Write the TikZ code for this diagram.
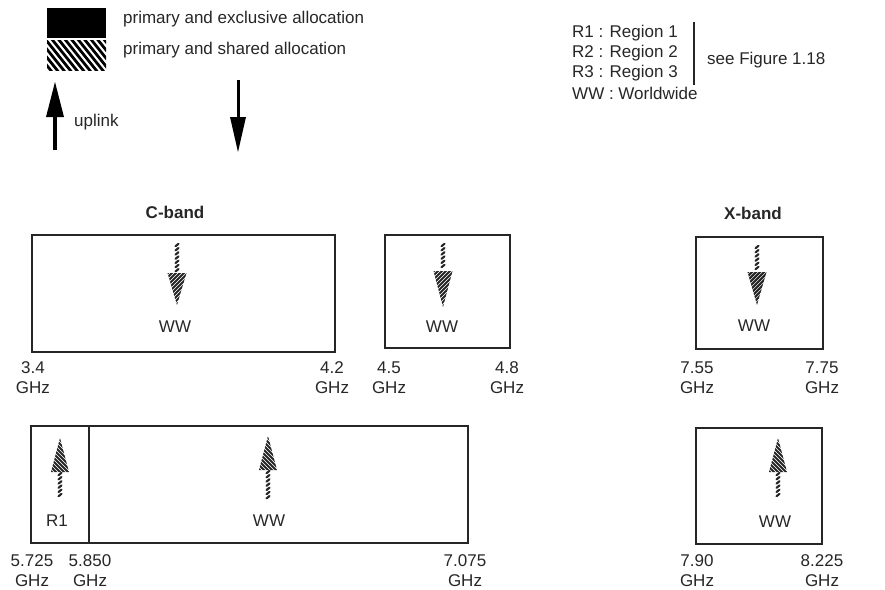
\documentclass[tikz,border=0pt]{standalone}
\usepackage{fontspec}
\setmainfont{Liberation Sans}
\begin{document}
\begin{tikzpicture}[x=1pt,y=-1pt,
  txt/.style={inner sep=0pt,font=\fontsize{17}{20}\selectfont,text=black!85},
  lab/.style={txt,align=center},
  band/.style={txt,font=\fontsize{17}{20}\selectfont\bfseries},
  boxline/.style={draw=black!85,line width=1.4pt},
  bead/.style={line width=2.1pt,line cap=round,black!85},
  hatch/.style={line width=2.1pt,black!85}]
\useasboundingbox (0,0) rectangle (885,589);
\newcommand\hstem[3]{% x, y1, y2 (y1<y2)
  \pgfmathtruncatemacro\nb{(#3-#2)/4.2-1}
  \foreach \i in {0,...,\nb} \draw[bead] (#1-1.5,#2+\i*4.2+3.2) -- (#1+1.5,#2+\i*4.2+0.8);}
\newcommand\hdown[4]{% x, ytop, ybase, ytip
  \hstem{#1}{#2}{#3}
  \begin{scope}
    \clip (#1-9.5,#3) -- (#1+9.5,#3) -- (#1,#4) -- cycle;
    \foreach \k in {-40,-36,...,40} \draw[hatch] (#1+\k-25,#3+40) -- (#1+\k+25,#3-10);
  \end{scope}}
\newcommand\hup[4]{% x, ytip, ybase, ybottom
  \hstem{#1}{#3}{#4}
  \begin{scope}
    \clip (#1-9,#3) -- (#1+9,#3) -- (#1,#2) -- cycle;
    \foreach \k in {-40,-36,...,40} \draw[hatch] (#1+\k-25,#2-15) -- (#1+\k+25,#2+35);
  \end{scope}}

% legend
\fill[black] (47,8) rectangle (106,38);
\begin{scope}
  \clip (47,40) rectangle (106,70);
  \foreach \k in {-40,-33.5,...,110} \draw[line width=2.8pt,black] (\k,30) -- (\k+40,80);
\end{scope}
\node[txt,anchor=west] (lexcl) at (123,19) {primary and exclusive allocation};
\node[txt,anchor=west] (lshar) at (123,50) {primary and shared allocation};

\coordinate (ub) at (55,150); \coordinate (uh) at (55,116); \coordinate (ut) at (55,82);
\draw[line width=4.5pt,black] (ub) -- (uh);
\fill[black] (46,117) -- (64,117) -- (ut) -- cycle;
\node[txt,anchor=west] (uplink) at (74,122) {uplink};

\coordinate (dt) at (238,80); \coordinate (dh) at (238,118); \coordinate (dtip) at (238,152);
\draw[line width=3pt,black] (dt) -- (dh);
\fill[black] (230,117) -- (246,117) -- (dtip) -- cycle;

\node[txt,anchor=west] (r1) at (572,33) {R1 : Region 1};
\node[txt,anchor=west] (r2) at (572,53) {R2 : Region 2};
\node[txt,anchor=west] (r3) at (572,73) {R3 : Region 3};
\node[txt,anchor=west] (ww) at (572,93) {WW : Worldwide};
\coordinate (bt) at (694,22); \coordinate (bb) at (694,85);
\draw[line width=2pt,black!85] (bt) -- (bb);
\node[txt,anchor=west] (see) at (707,60) {see Figure 1.18};

% band titles
\node[band] (cband) at (175,212) {C-band};
\node[band] (xband) at (753,213) {X-band};

% top row boxes
\draw[boxline] (32,235) rectangle (335,352);
\draw[boxline] (385,235) rectangle (510,348);
\draw[boxline] (696,237) rectangle (823,349);
\hdown{177}{243}{273}{305}
\hdown{443}{243}{271}{307}
\hdown{757}{245}{272}{305}
\node[txt] (w1) at (175,327) {WW};
\node[txt] (w2) at (442,327) {WW};
\node[txt] (w3) at (754,326) {WW};

\node[lab] (f1) at (33,378) {3.4\\GHz};
\node[lab] (f2) at (332,378) {4.2\\GHz};
\node[lab] (f3) at (389,378) {4.5\\GHz};
\node[lab] (f4) at (507,378) {4.8\\GHz};
\node[lab] (f5) at (697,378) {7.55\\GHz};
\node[lab] (f6) at (822,378) {7.75\\GHz};

% bottom row boxes
\draw[boxline] (31,426) rectangle (468,543);
\draw[boxline] (89,426) -- (89,543);
\draw[boxline] (696,428) rectangle (822,544);
\hup{60}{438}{472}{501}
\hup{268}{436}{470}{501}
\hup{778}{438}{472}{501}
\node[txt] (r1b) at (57,521) {R1};
\node[txt] (w4) at (269,521) {WW};
\node[txt] (w5) at (775,522) {WW};

\node[lab] (g1) at (32,571) {5.725\\GHz};
\node[lab] (g2) at (90,571) {5.850\\GHz};
\node[lab] (g3) at (465,571) {7.075\\GHz};
\node[lab] (g4) at (697,571) {7.90\\GHz};
\node[lab] (g5) at (822,571) {8.225\\GHz};
\end{tikzpicture}
\end{document}
